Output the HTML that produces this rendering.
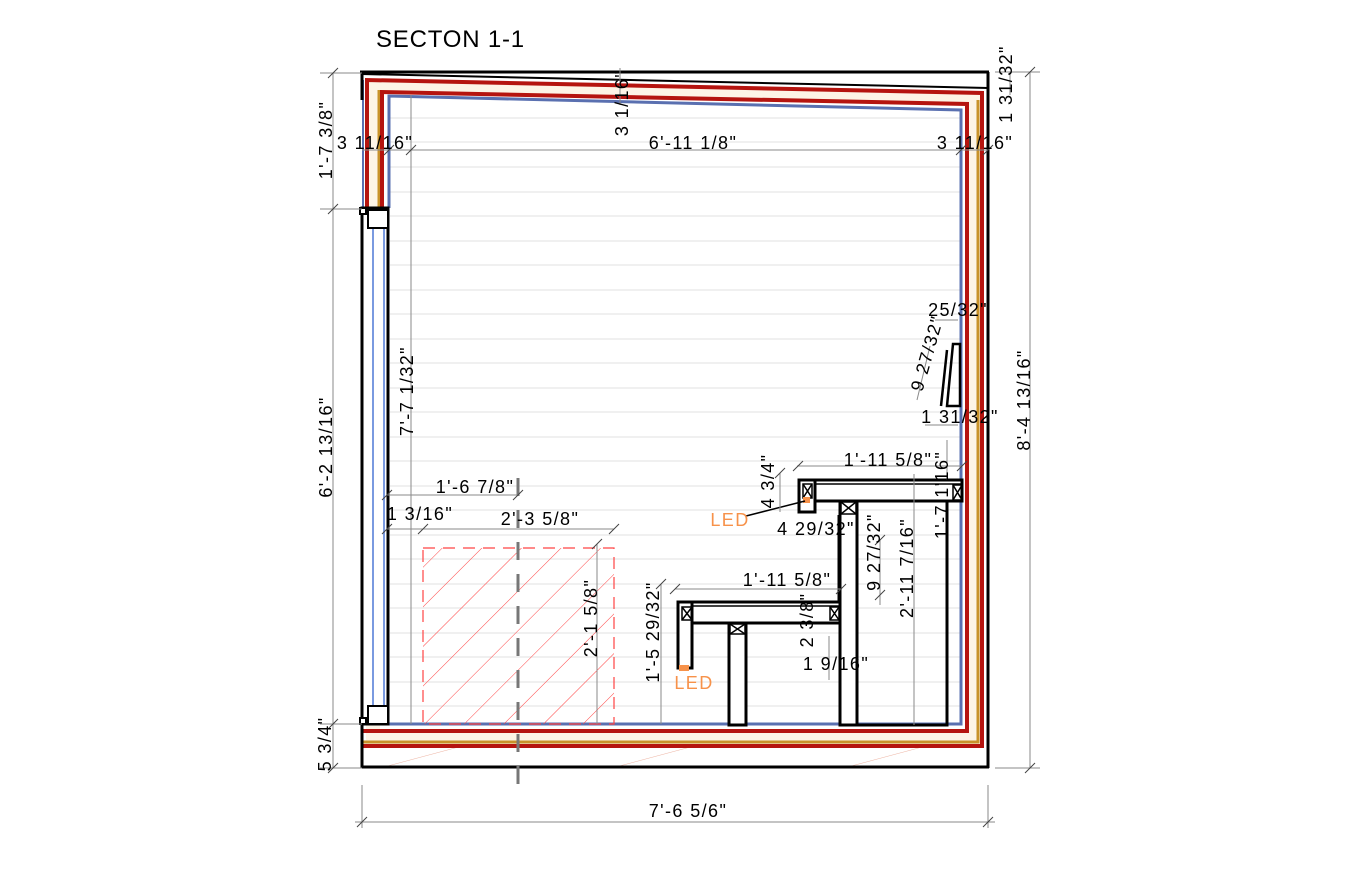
<!DOCTYPE html>
<html><head><meta charset="utf-8"><style>
html,body{margin:0;padding:0;background:#fff;width:1366px;height:877px;overflow:hidden}
svg{display:block}
text{font-family:"Liberation Sans",Arial,sans-serif;font-size:18px;letter-spacing:1.4px;fill:#000}
.d{stroke:#8a8a8a;stroke-width:1;fill:none}
.t{stroke:#444;stroke-width:1}
.k{stroke:#000;fill:none}
.led{fill:#f7924a}
</style></head><body>
<svg width="1366" height="877" viewBox="0 0 1366 877" xmlns="http://www.w3.org/2000/svg">
<defs>
<pattern id="hatch" width="28" height="28" patternUnits="userSpaceOnUse" patternTransform="rotate(45)">
<line x1="0" y1="0" x2="0" y2="28" stroke="#f44" stroke-width="1"/>
</pattern>
<pattern id="slab" width="60" height="60" patternUnits="userSpaceOnUse" patternTransform="rotate(75)">
<line x1="0" y1="0" x2="0" y2="60" stroke="#e9a08a" stroke-width="0.8"/>
</pattern>
</defs>

<text x="376" y="47" style="font-size:24px;letter-spacing:0.8px">SECTON 1-1</text>

<g stroke="#e2e2e2" stroke-width="1">
<line x1="390" y1="118" x2="960" y2="118"/><line x1="390" y1="142" x2="960" y2="142"/>
<line x1="390" y1="167" x2="960" y2="167"/><line x1="390" y1="192" x2="960" y2="192"/>
<line x1="390" y1="216" x2="960" y2="216"/><line x1="390" y1="241" x2="960" y2="241"/>
<line x1="390" y1="265" x2="960" y2="265"/><line x1="390" y1="290" x2="960" y2="290"/>
<line x1="390" y1="314" x2="960" y2="314"/><line x1="390" y1="339" x2="960" y2="339"/>
<line x1="390" y1="363" x2="960" y2="363"/><line x1="390" y1="388" x2="960" y2="388"/>
<line x1="390" y1="412" x2="960" y2="412"/><line x1="390" y1="437" x2="960" y2="437"/>
<line x1="390" y1="461" x2="960" y2="461"/><line x1="390" y1="486" x2="960" y2="486"/>
<line x1="390" y1="510" x2="960" y2="510"/><line x1="390" y1="535" x2="960" y2="535"/>
<line x1="390" y1="559" x2="960" y2="559"/><line x1="390" y1="584" x2="960" y2="584"/>
<line x1="390" y1="608" x2="960" y2="608"/><line x1="390" y1="633" x2="960" y2="633"/>
<line x1="390" y1="657" x2="960" y2="657"/><line x1="390" y1="682" x2="960" y2="682"/>
<line x1="390" y1="706" x2="960" y2="706"/>
</g>

<path d="M366 80 L982 93 L982 746 L366 746 Z M380 92 L967 104 L967 731 L380 731 Z" fill="#fdf4e6" fill-rule="evenodd"/>
<rect x="363" y="747" width="624" height="20" fill="url(#slab)"/>

<line x1="360" y1="72" x2="989" y2="72" stroke="#000" stroke-width="3"/>
<line x1="362" y1="74" x2="988" y2="88" stroke="#000" stroke-width="2"/>
<path d="M367 208 L367 80 L982 93 L982 746 L363 746" fill="none" stroke="#b5140f" stroke-width="4"/>
<path d="M379 208 L379 90 M978 100 L978 742 L363 742" fill="none" stroke="#c8922a" stroke-width="3"/>
<path d="M382 208 L382 92 L967 104 L967 731 L363 731" fill="none" stroke="#b5140f" stroke-width="4"/>
<path d="M389 208 L389 96 L961 110 L961 724 L389 724" fill="none" stroke="#5a70b0" stroke-width="3"/>
<line x1="363" y1="80" x2="363" y2="208" stroke="#5a70b0" stroke-width="2"/>
<line x1="362" y1="72" x2="362" y2="100" stroke="#000" stroke-width="3"/>
<line x1="988" y1="72" x2="988" y2="768" stroke="#000" stroke-width="3"/>
<line x1="361" y1="767" x2="989" y2="767" stroke="#000" stroke-width="3"/>
<line x1="362" y1="724" x2="362" y2="768" stroke="#000" stroke-width="3"/>

<rect x="362" y="208" width="26" height="516" fill="#fff" stroke="#000" stroke-width="3"/>
<line x1="373" y1="228" x2="373" y2="706" stroke="#7a9ae0" stroke-width="2"/>
<line x1="384" y1="228" x2="384" y2="706" stroke="#7a9ae0" stroke-width="2"/>
<rect x="368" y="210" width="20" height="18" fill="#fff" stroke="#000" stroke-width="2"/>
<rect x="368" y="706" width="20" height="18" fill="#fff" stroke="#000" stroke-width="2"/>
<rect x="360" y="208" width="6" height="6" fill="#fff" stroke="#000" stroke-width="2"/>
<rect x="360" y="718" width="6" height="6" fill="#fff" stroke="#000" stroke-width="2"/>

<rect x="423" y="548" width="191" height="176" fill="url(#hatch)" stroke="#f44" stroke-width="1.2" stroke-dasharray="12 8"/>
<line x1="518" y1="478" x2="518" y2="792" stroke="#777" stroke-width="3" stroke-dasharray="18 14"/>

<g class="k" stroke-width="3">
<rect x="799" y="480" width="163" height="21" fill="#fff"/>
<rect x="799" y="480" width="16" height="32" fill="#fff"/>
<rect x="840" y="501" width="17" height="224" fill="#fff"/>
<path d="M857 725 L947 725 L947 501"/>
<line x1="839" y1="515" x2="839" y2="602"/>
</g>
<line x1="815" y1="484" x2="962" y2="484" stroke="#000" stroke-width="1.5"/>
<g class="k" stroke-width="1.5">
<rect x="803" y="484" width="9" height="14"/><path d="M803 484 L812 498 M812 484 L803 498"/>
<rect x="953" y="485" width="9" height="15"/><path d="M953 485 L962 500 M962 485 L953 500"/>
<rect x="841" y="502" width="15" height="12"/><path d="M841 502 L856 514 M856 502 L841 514"/>
</g>
<rect x="803" y="497" width="7" height="6" class="led"/>
<line x1="746" y1="516" x2="805" y2="501" stroke="#000" stroke-width="1.5"/>

<g class="k" stroke-width="3">
<rect x="678" y="602" width="162" height="21" fill="#fff"/>
<rect x="678" y="602" width="14" height="66" fill="#fff"/>
<rect x="729" y="623" width="17" height="102" fill="#fff"/>
</g>
<line x1="692" y1="606" x2="840" y2="606" stroke="#000" stroke-width="1.5"/>
<g class="k" stroke-width="1.5">
<rect x="682" y="607" width="10" height="13"/><path d="M682 607 L692 620 M692 607 L682 620"/>
<rect x="830" y="607" width="9" height="13"/><path d="M830 607 L839 620 M839 607 L830 620"/>
<rect x="730" y="624" width="15" height="10"/><path d="M730 624 L745 634 M745 624 L730 634"/>
</g>
<rect x="679" y="665" width="10" height="6" class="led"/>

<g class="k" stroke-width="2.5">
<path d="M953 344 L960 344 L960 406 L947 406 Z"/>
<path d="M947 350 L941 406"/>
</g>

<g class="d">
<line x1="333" y1="73" x2="333" y2="768"/>
<line x1="320" y1="73" x2="362" y2="73"/><line x1="320" y1="209" x2="362" y2="209"/>
<line x1="320" y1="724" x2="362" y2="724"/><line x1="320" y1="768" x2="362" y2="768"/>
<line x1="362" y1="150" x2="988" y2="150"/>
<line x1="411" y1="95" x2="411" y2="724"/>
<line x1="1030" y1="72" x2="1030" y2="768"/>
<line x1="995" y1="72" x2="1040" y2="72"/><line x1="995" y1="768" x2="1040" y2="768"/>
<line x1="1010" y1="72" x2="1010" y2="95"/>
<line x1="362" y1="785" x2="362" y2="828"/><line x1="988" y1="785" x2="988" y2="828"/>
<line x1="355" y1="822" x2="995" y2="822"/>
<line x1="387" y1="495" x2="519" y2="495"/>
<line x1="387" y1="529" x2="614" y2="529"/>
<line x1="597" y1="544" x2="597" y2="724"/>
<line x1="661" y1="584" x2="661" y2="724"/>
<line x1="675" y1="589" x2="842" y2="589"/>
<line x1="797" y1="466" x2="962" y2="466"/>
<line x1="780" y1="473" x2="780" y2="512"/>
<line x1="880" y1="540" x2="880" y2="605"/>
<line x1="914" y1="474" x2="914" y2="725"/>
<line x1="947" y1="480" x2="947" y2="440"/>
<line x1="829" y1="636" x2="829" y2="680"/>
<line x1="935" y1="320" x2="958" y2="320"/>
<line x1="930" y1="346" x2="917" y2="400"/>
<line x1="925" y1="425" x2="958" y2="425"/>
<line x1="620" y1="68" x2="620" y2="105"/>
</g>
<g class="t">
<path d="M328 78 L338 68 M328 214 L338 204 M328 729 L338 719 M328 773 L338 763"/>
<path d="M384 155 L394 145 M406 155 L416 145 M956 155 L966 145 M983 155 L993 145"/>
<path d="M1025 77 L1035 67 M1025 773 L1035 763"/>
<path d="M357 827 L367 817 M983 827 L993 817"/>
<path d="M382 500 L392 490 M513 500 L523 490 M382 534 L392 524 M418 534 L428 524 M609 534 L619 524"/>
<path d="M592 549 L602 539 M656 589 L666 579 M670 594 L680 584 M836 594 L846 584"/>
<path d="M793 471 L803 461 M957 471 L967 461 M775 478 L785 468 M875 545 L885 535 M875 600 L885 590"/>
</g>

<text transform="translate(332,140) rotate(-90)" text-anchor="middle">1'-7 3/8"</text>
<text transform="translate(332,447) rotate(-90)" text-anchor="middle">6'-2 13/16"</text>
<text transform="translate(331,744) rotate(-90)" text-anchor="middle">5 3/4"</text>
<text x="375" y="149" text-anchor="middle">3 11/16"</text>
<text x="693" y="149" text-anchor="middle">6'-11 1/8"</text>
<text x="975" y="149" text-anchor="middle">3 11/16"</text>
<text transform="translate(628,103) rotate(-90)" text-anchor="middle">3 1/16"</text>
<text transform="translate(1012,84) rotate(-90)" text-anchor="middle">1 31/32"</text>
<text transform="translate(1030,400) rotate(-90)" text-anchor="middle">8'-4 13/16"</text>
<text transform="translate(413,391) rotate(-90)" text-anchor="middle">7'-7 1/32"</text>
<text x="475" y="493" text-anchor="middle">1'-6 7/8"</text>
<text x="420" y="520" text-anchor="middle">1 3/16"</text>
<text x="540" y="525" text-anchor="middle">2'-3 5/8"</text>
<text transform="translate(597,618) rotate(-90)" text-anchor="middle">2'-1 5/8"</text>
<text transform="translate(659,632) rotate(-90)" text-anchor="middle">1'-5 29/32"</text>
<text x="787" y="586" text-anchor="middle">1'-11 5/8"</text>
<text transform="translate(813,620) rotate(-90)" text-anchor="middle">2 3/8"</text>
<text x="836" y="670" text-anchor="middle">1 9/16"</text>
<text transform="translate(880,552) rotate(-90)" text-anchor="middle">9 27/32"</text>
<text transform="translate(913,568) rotate(-90)" text-anchor="middle">2'-11 7/16"</text>
<text transform="translate(948,495) rotate(-90)" text-anchor="middle">1'-7 1'16"</text>
<text x="888" y="466" text-anchor="middle">1'-11 5/8"</text>
<text transform="translate(774,481) rotate(-90)" text-anchor="middle">4 3/4"</text>
<text x="816" y="535" text-anchor="middle">4 29/32"</text>
<text x="730" y="526" text-anchor="middle" style="fill:#f7924a">LED</text>
<text x="694" y="689" text-anchor="middle" style="fill:#f7924a">LED</text>
<text x="958" y="316" text-anchor="middle">25/32"</text>
<text transform="translate(933,355) rotate(-74)" text-anchor="middle">9 27/32"</text>
<text x="960" y="423" text-anchor="middle">1 31/32"</text>
<text x="688" y="817" text-anchor="middle">7'-6 5/6"</text>
</svg>
</body></html>
